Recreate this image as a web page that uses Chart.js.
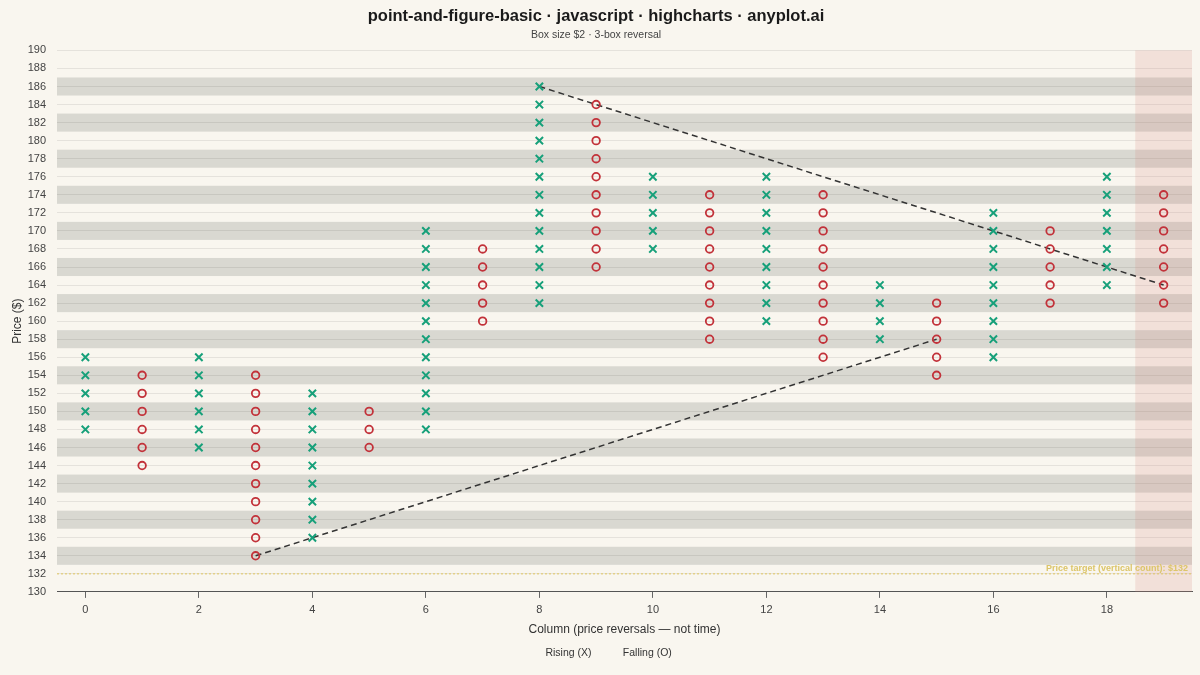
<!DOCTYPE html>
<html>
<head>
<meta charset="utf-8">
<script src="https://cdn.jsdelivr.net/npm/chart.js@4/dist/chart.umd.min.js"></script>
<style>
  html, body { margin: 0; padding: 0; background: #f9f6ef; }
  canvas { display: block; }
</style>
</head>
<body>
<canvas id="pnf" width="1200" height="675"></canvas>
<script>
// ── Data ──
const columns = [0, 1, 2, 3, 4, 5, 6, 7, 8, 9, 10, 11, 12, 13, 14, 15, 16, 17, 18, 19];
const colType = ['X', 'O', 'X', 'O', 'X', 'O', 'X', 'O', 'X', 'O', 'X', 'O', 'X', 'O', 'X', 'O', 'X', 'O', 'X', 'O'];
const colBoxes = [
  [148, 150, 152, 154, 156],
  [154, 152, 150, 148, 146, 144],
  [146, 148, 150, 152, 154, 156],
  [154, 152, 150, 148, 146, 144, 142, 140, 138, 136, 134],
  [136, 138, 140, 142, 144, 146, 148, 150, 152],
  [150, 148, 146],
  [148, 150, 152, 154, 156, 158, 160, 162, 164, 166, 168, 170],
  [168, 166, 164, 162, 160],
  [162, 164, 166, 168, 170, 172, 174, 176, 178, 180, 182, 184, 186],
  [184, 182, 180, 178, 176, 174, 172, 170, 168, 166],
  [168, 170, 172, 174, 176],
  [174, 172, 170, 168, 166, 164, 162, 160, 158],
  [160, 162, 164, 166, 168, 170, 172, 174, 176],
  [174, 172, 170, 168, 166, 164, 162, 160, 158, 156],
  [158, 160, 162, 164],
  [162, 160, 158, 156, 154],
  [156, 158, 160, 162, 164, 166, 168, 170, 172],
  [170, 168, 166, 164, 162],
  [164, 166, 168, 170, 172, 174, 176],
  [174, 172, 170, 168, 166, 164, 162]
];
const bandPrices = [134, 138, 142, 146, 150, 154, 158, 162, 166, 170, 174, 178, 182, 186];
const supportX = [3, 15], supportY = [134, 158];
const resistX = [8, 19], resistY = [186, 164];
const targetPrice = 132;
const activeColumn = 19;
const xTicks = [0, 2, 4, 6, 8, 10, 12, 14, 16, 18];

const GREEN = '#17a07a', RED = '#c2323a';
const FONT = "'Liberation Sans', Arial, sans-serif";

const xPts = [], oPts = [];
columns.forEach((c, i) => {
  colBoxes[i].forEach(p => (colType[i] === 'X' ? xPts : oPts).push({ x: c, y: p }));
});

// ── Plugins ──
const bands = {
  id: 'bands',
  beforeDraw(chart) {
    const { ctx, chartArea: a, scales: { y } } = chart;
    ctx.save();
    ctx.fillStyle = '#f9f6ef';
    ctx.fillRect(0, 0, chart.width, chart.height);
    ctx.fillStyle = '#d9d8d1';
    bandPrices.forEach(p => {
      const t = y.getPixelForValue(p + 1), b = y.getPixelForValue(p - 1);
      ctx.fillRect(a.left, t, a.right - a.left, b - t);
    });
    ctx.restore();
  },
  beforeDatasetsDraw(chart) {
    const { ctx, chartArea: a, scales: { x } } = chart;
    const l = x.getPixelForValue(activeColumn - 0.5), r = x.getPixelForValue(activeColumn + 0.5);
    ctx.save();
    ctx.fillStyle = 'rgba(214,140,130,0.2)';
    ctx.fillRect(l, a.top, r - l, a.bottom - a.top);
    ctx.restore();
  },
  afterDatasetsDraw(chart) {
    const { ctx, chartArea: a, scales: { y } } = chart;
    ctx.save();
    ctx.font = 'bold 9px ' + FONT;
    ctx.fillStyle = '#dcc56a';
    ctx.textAlign = 'right';
    ctx.textBaseline = 'bottom';
    ctx.fillText('Price target (vertical count): $' + targetPrice, a.right - 4, y.getPixelForValue(targetPrice) - 1);
    ctx.restore();
  }
};

// ── Chart ──
new Chart(document.getElementById('pnf').getContext('2d'), {
  type: 'scatter',
  data: {
    datasets: [
      { label: 'Rising (X)', data: xPts, pointStyle: 'crossRot', pointRadius: 5.2, borderColor: GREEN, backgroundColor: GREEN, borderWidth: 2 },
      { label: 'Falling (O)', data: oPts, pointStyle: 'circle', pointRadius: 3.8, borderColor: RED, backgroundColor: 'transparent', borderWidth: 1.8 },
      { label: 'support', type: 'line', data: supportX.map((v, i) => ({ x: v, y: supportY[i] })), borderColor: '#333', borderWidth: 1.5, borderDash: [6, 4], pointRadius: 0, fill: false },
      { label: 'resist', type: 'line', data: resistX.map((v, i) => ({ x: v, y: resistY[i] })), borderColor: '#333', borderWidth: 1.5, borderDash: [6, 4], pointRadius: 0, fill: false },
      { label: 'target', type: 'line', data: [{ x: -0.5, y: targetPrice }, { x: 19.5, y: targetPrice }], borderColor: '#e0c660', borderWidth: 1, borderDash: [2, 2], pointRadius: 0, fill: false }
    ]
  },
  options: {
    responsive: false, animation: false, events: [],
    layout: { padding: { top: 4, right: 8, bottom: 7, left: 0 } },
    plugins: {
      title: { display: true, text: 'point-and-figure-basic · javascript · highcharts · anyplot.ai', color: '#1a1a1a', font: { family: FONT, size: 16.5, weight: 'bold' }, padding: { top: 3, bottom: 2 } },
      subtitle: { display: true, text: 'Box size $2 · 3-box reversal', color: '#444', font: { family: FONT, size: 10.5 }, padding: { bottom: 9 } },
      legend: {
        position: 'bottom',
        labels: {
          color: '#333', font: { family: FONT, size: 10.5 }, boxWidth: 20, boxHeight: 8, padding: 6,
          generateLabels: chart => chart.data.datasets.slice(0, 2).map((d, i) => ({
            text: d.label, fillStyle: 'transparent', strokeStyle: 'transparent', lineWidth: 0, datasetIndex: i, fontColor: '#333'
          }))
        }
      },
      tooltip: { enabled: false }
    },
    scales: {
      x: {
        type: 'linear', min: -0.5, max: 19.5,
        afterBuildTicks: s => { s.ticks = xTicks.map(v => ({ value: v })); },
        grid: { drawOnChartArea: false, drawTicks: true, tickLength: 6, color: '#666' },
        border: { display: true, color: '#555', width: 1 },
        ticks: { color: '#444', font: { family: FONT, size: 11 }, padding: 5.5 },
        title: { display: true, text: 'Column (price reversals — not time)', color: '#333', font: { family: FONT, size: 12 }, padding: { top: 0, bottom: 5 } }
      },
      y: {
        min: 130, max: 190,
        afterFit: s => { s.width = 57; },
        grid: { color: 'rgba(0,0,0,0.08)', drawTicks: false },
        border: { display: false },
        ticks: { stepSize: 2, color: '#444', font: { family: FONT, size: 11 }, padding: 11 },
        title: { display: true, text: 'Price ($)', color: '#333', font: { family: FONT, size: 12 }, padding: { top: 10 } }
      }
    }
  },
  plugins: [bands]
});
</script>
</body>
</html>
